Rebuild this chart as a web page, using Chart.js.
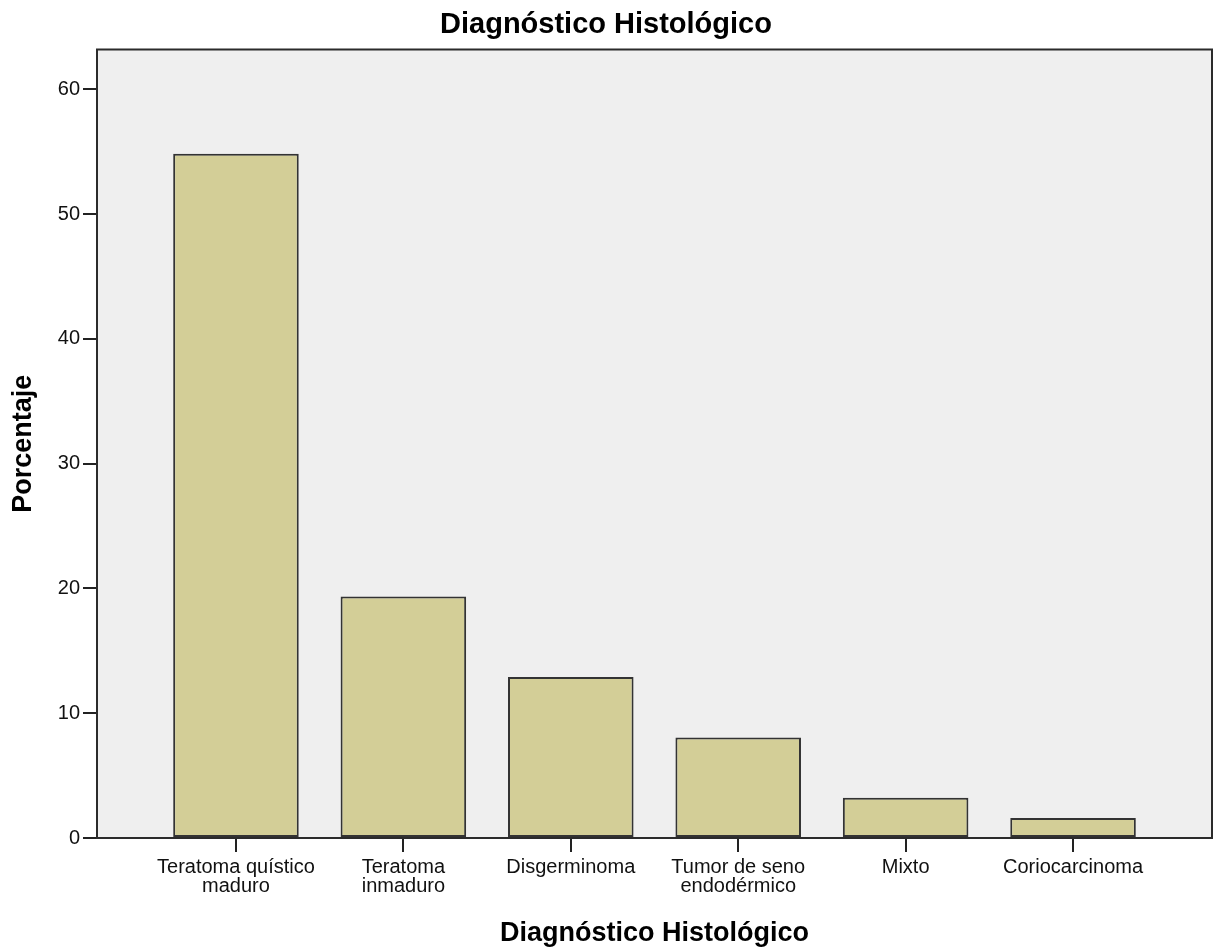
<!DOCTYPE html>
<html>
<head>
<meta charset="utf-8">
<title>Diagnóstico Histológico</title>
<script src="https://cdn.jsdelivr.net/npm/chart.js@4.4.0/dist/chart.umd.min.js"></script>
<style>
    html, body { margin: 0; padding: 0; background: #fff; }
</style>
</head>
<body>
<canvas id="histChart" width="1215" height="951"></canvas>
<script>
// porcentaje de casos por diagnóstico histológico
const categories = [
    ['Teratoma quístico', 'maduro'],
    ['Teratoma', 'inmaduro'],
    'Disgerminoma',
    ['Tumor de seno', 'endodérmico'],
    'Mixto',
    'Coriocarcinoma',
];
const percentages = [54.84, 19.35, 12.90, 8.06, 3.23, 1.61];
const yTicks = [0, 10, 20, 30, 40, 50, 60];

const FONT = '"Liberation Sans", Arial, sans-serif';

// grey plot background + frame round the chart area
const plotFrame = {
    id: 'plotFrame',
    beforeDraw(chart) {
        const { ctx, chartArea: a } = chart;
        ctx.save();
        ctx.fillStyle = '#efefef';
        ctx.fillRect(a.left, a.top, a.right - a.left, a.bottom - a.top);
        ctx.restore();
    },
    afterDatasetsDraw(chart) {
        const { ctx, chartArea: a } = chart;
        ctx.save();
        ctx.strokeStyle = '#2b2b2b';
        ctx.lineWidth = 2;
        ctx.strokeRect(a.left, a.top, a.right - a.left, a.bottom - a.top);
        ctx.restore();
    },
};

Chart.defaults.color = '#000';
Chart.defaults.font.family = FONT;

let histChart = {};

histChart.config = {
    type: 'bar',
    data: {
        datasets: [{
            label: 'Porcentaje',
            data: percentages.map((v, i) => ({ x: i, y: v })),
            backgroundColor: '#d3ce97',
            borderColor: '#333333',
            borderWidth: 2,
            borderSkipped: false,
            barPercentage: 0.75,
            categoryPercentage: 1.0,
        }],
    },
    options: {
        responsive: false,
        animation: false,
        events: [],
        layout: { padding: { left: 0, right: 3, top: 0, bottom: 0 } },
        plugins: {
            legend: { display: false },
            tooltip: { enabled: false },
            title: {
                display: true,
                text: 'Diagnóstico Histológico',
                color: '#000',
                font: { family: FONT, size: 29, weight: 'bold' },
                padding: { top: 8, bottom: 6.7 },
            },
        },
        scales: {
            x: {
                type: 'linear',
                offset: false,
                min: -0.83,
                max: 5.83,
                afterBuildTicks: (scale) => {
                    scale.ticks = categories.map((c, i) => ({ value: i }));
                },
                afterFit: (scale) => { scale.height = 113; },
                ticks: {
                    autoSkip: false,
                    maxRotation: 0,
                    minRotation: 0,
                    padding: 6,
                    color: '#111',
                    font: { family: FONT, size: 20, lineHeight: '19px' },
                    callback: (value) => categories[value],
                },
                grid: {
                    offset: false,
                    drawOnChartArea: false,
                    drawTicks: true,
                    tickLength: 14,
                    tickColor: '#222',
                    lineWidth: 2,
                },
                border: { display: true, color: '#222', width: 2 },
                title: {
                    display: true,
                    text: 'Diagnóstico Histológico',
                    color: '#000',
                    font: { family: FONT, size: 27, weight: 'bold' },
                    padding: { top: 0, bottom: 1 },
                },
            },
            y: {
                min: 0,
                max: 63.2,
                afterBuildTicks: (scale) => {
                    scale.ticks = yTicks.map((v) => ({ value: v }));
                },
                afterFit: (scale) => { scale.width = 97; },
                ticks: {
                    padding: 3,
                    color: '#111',
                    font: { family: FONT, size: 20 },
                },
                grid: {
                    drawOnChartArea: false,
                    drawTicks: true,
                    tickLength: 14,
                    tickColor: '#222',
                    lineWidth: 2,
                },
                border: { display: true, color: '#222', width: 2 },
                title: {
                    display: true,
                    text: 'Porcentaje',
                    color: '#000',
                    font: { family: FONT, size: 27, weight: 'bold' },
                    padding: { top: 7, bottom: 0 },
                },
            },
        },
    },
    plugins: [plotFrame],
};

histChart.element = document.getElementById('histChart');
histChart.chart = new Chart(histChart.element, histChart.config);
</script>
</body>
</html>
